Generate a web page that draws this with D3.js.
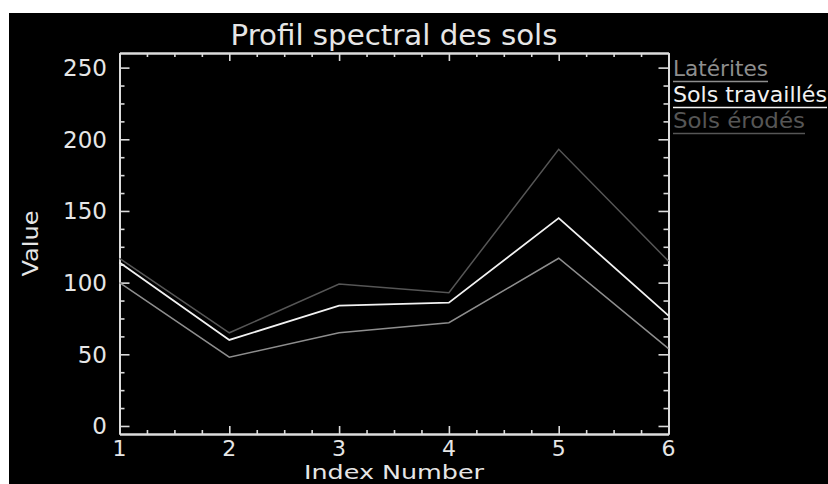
<!DOCTYPE html>
<html>
<head>
<meta charset="utf-8">
<script src="https://cdn.jsdelivr.net/npm/d3@7"></script>
<style>
  html, body { margin: 0; padding: 0; background: #fff; }
  svg { display: block; }
  text { font-family: "DejaVu Sans", sans-serif; fill: #e6e6e6; }
</style>
</head>
<body>
<svg id="chart"></svg>
<script>
const width = 828;
const height = 484;

// data
const indexNumbers = [1, 2, 3, 4, 5, 6];
const seriesNames = ['Latérites', 'Sols travaillés', 'Sols érodés'];
const laterites = [100, 48, 65, 72, 117, 54];
const solsTravailles = [114, 60, 84, 86, 145, 77];
const solsErodes = [117, 65, 99, 93, 193, 115];
const yTicks = [0, 50, 100, 150, 200, 250];

const seriesValues = [laterites, solsTravailles, solsErodes];
const seriesColors = ['#8e8e8e', '#f2f2f2', '#565656'];
const legendWidths = [95, 154, 132];

const plot = { left: 119.5, right: 668.5, top: 53, bottom: 434 };

const svg = d3.select('#chart')
  .attr('width', width)
  .attr('height', height);

// black canvas, white strip on top and left
svg.append('rect').attr('x', 0).attr('y', 0).attr('width', width).attr('height', height).attr('fill', '#fff');
svg.append('rect').attr('x', 9).attr('y', 13).attr('width', width - 9).attr('height', height - 13).attr('fill', '#000');

const x = d3.scaleLinear().domain([1, 6]).range([plot.left, plot.right]);
const y = d3.scaleLinear().domain([-5.6, 260.2]).range([plot.bottom, plot.top]);

const xMinor = d3.range(1, 6.001, 0.25).filter(v => !indexNumbers.includes(v));
const yMinor = d3.range(0, 250.001, 12.5).filter(v => !yTicks.includes(v));

function styleAxis(g) {
  g.selectAll('path.domain').attr('stroke', '#dcdcdc').attr('stroke-width', 2);
  g.selectAll('.tick line').attr('stroke', '#dcdcdc').attr('stroke-width', 1.6);
  g.selectAll('.tick text').remove();
}

// ===========================================================================
//      axes (box with inward ticks)
// ===========================================================================
const axes = [
  [d3.axisBottom(x), `translate(0,${plot.bottom})`, -8, -4, indexNumbers, xMinor],
  [d3.axisTop(x), `translate(0,${plot.top})`, -8, -4, indexNumbers, xMinor],
  [d3.axisLeft(y), `translate(${plot.left},0)`, -10, -5, yTicks, yMinor],
  [d3.axisRight(y), `translate(${plot.right},0)`, -10, -5, yTicks, yMinor],
];
axes.forEach(function ([axis, tr, major, minor, majors, minors]) {
  svg.append('g')
    .attr('transform', tr)
    .call(axis.tickValues(minors).tickSize(minor).tickSizeOuter(0).tickFormat(''))
    .call(styleAxis);
  svg.append('g')
    .attr('transform', tr)
    .call(axis.tickValues(majors).tickSize(major).tickSizeOuter(0).tickFormat(''))
    .call(styleAxis);
});

// tick labels
svg.append('g').selectAll('text')
  .data(indexNumbers)
  .enter()
  .append('text')
  .attr('x', d => x(d))
  .attr('y', 456)
  .attr('text-anchor', 'middle')
  .attr('font-size', 22)
  .text(d => d);

svg.append('g').selectAll('text')
  .data(yTicks)
  .enter()
  .append('text')
  .attr('x', 107)
  .attr('y', d => y(d) + 8.5)
  .attr('text-anchor', 'end')
  .attr('font-size', 23)
  .text(d => d);

// ===========================================================================
//      lines
// ===========================================================================
const line = d3.line()
  .x((d, i) => x(indexNumbers[i]))
  .y(d => y(d));

seriesValues.forEach(function (vals, i) {
  svg.append('path')
    .attr('d', line(vals))
    .attr('fill', 'none')
    .attr('stroke', seriesColors[i])
    .attr('stroke-width', i === 1 ? 1.8 : 1.5);
});

// ===========================================================================
//      titles
// ===========================================================================
svg.append('text')
  .attr('x', (plot.left + plot.right) / 2)
  .attr('y', 44.5)
  .attr('text-anchor', 'middle')
  .attr('font-size', 28)
  .attr('textLength', 327)
  .attr('lengthAdjust', 'spacingAndGlyphs')
  .text('Profil spectral des sols');

svg.append('text')
  .attr('x', (plot.left + plot.right) / 2)
  .attr('y', 479)
  .attr('text-anchor', 'middle')
  .attr('font-size', 19)
  .attr('textLength', 180)
  .attr('lengthAdjust', 'spacingAndGlyphs')
  .text('Index Number');

svg.append('text')
  .attr('transform', `translate(38,${(plot.top + plot.bottom) / 2}) rotate(-90)`)
  .attr('text-anchor', 'middle')
  .attr('font-size', 22)
  .attr('textLength', 66)
  .attr('lengthAdjust', 'spacingAndGlyphs')
  .text('Value');

// ===========================================================================
//      legend
// ===========================================================================
seriesNames.forEach(function (name, i) {
  const base = 76 + i * 26;
  svg.append('text')
    .attr('x', 673)
    .attr('y', base)
    .attr('font-size', 21)
    .attr('textLength', legendWidths[i])
    .attr('lengthAdjust', 'spacingAndGlyphs')
    .style('fill', seriesColors[i])
    .text(name);
  svg.append('line')
    .attr('x1', 673)
    .attr('x2', 673 + legendWidths[i])
    .attr('y1', base + 5.5)
    .attr('y2', base + 5.5)
    .attr('stroke', seriesColors[i])
    .attr('stroke-width', 1.6);
});
</script>
</body>
</html>
